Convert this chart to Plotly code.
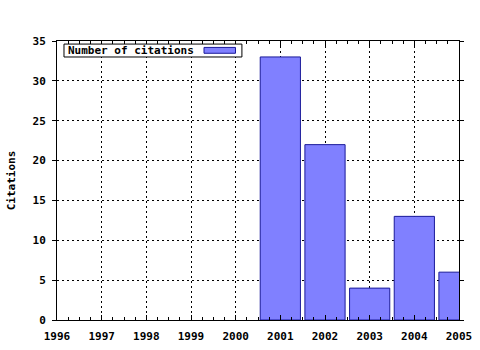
import plotly.graph_objects as go

years = [2001, 2002, 2003, 2004, 2005]
citations = [33, 22, 4, 13, 6]
x_ticks = list(range(1996, 2006))
y_ticks = [0, 5, 10, 15, 20, 25, 30, 35]
series_name = "Number of citations"

font = dict(family="DejaVu Sans Mono", size=11, color="black", weight="bold")

fig = go.Figure()
fig.add_trace(go.Bar(
    x=years, y=citations, name=series_name, width=0.9,
    marker=dict(color="#8080ff", line=dict(color="#1a1a9a", width=1)),
    showlegend=False,
))

axis_common = dict(
    showline=True, linecolor="black", linewidth=1, mirror="ticks",
    tickcolor="black", tickwidth=1,
    showgrid=True, gridcolor="black", griddash="2px,3px", gridwidth=1,
    zeroline=False, tickfont=font, automargin=False,
)

fig.update_xaxes(range=[1996, 2005], tickvals=x_ticks, ticktext=[str(v) for v in x_ticks],
                 ticks="inside", ticklen=5, ticklabelstandoff=6,
                 minor=dict(ticks="inside", ticklen=3, tickcolor="black", dtick=0.25, showgrid=False),
                 **axis_common)
fig.update_yaxes(range=[0, 35], tickvals=y_ticks, ticks="outside", ticklen=4,
                 ticklabelstandoff=4,
                 title=dict(text="Citations", font=font, standoff=14),
                 **axis_common)

# legend-like box: text then swatch
fig.add_shape(type="rect", xref="paper", yref="paper", x0=0.0174, x1=0.460, y0=0.9427, y1=0.989,
              fillcolor="white", line=dict(color="black", width=1), layer="above")
fig.add_shape(type="rect", xref="paper", yref="paper", x0=0.3657, x1=0.444, y0=0.956, y1=0.977,
              fillcolor="#8080ff", line=dict(color="#1a1a9a", width=1), layer="above")
fig.add_annotation(xref="paper", yref="paper", x=0.0224, y=0.966, xanchor="left", yanchor="middle",
                   text=series_name, showarrow=False, font=font)

fig.update_layout(
    width=480, height=350,
    margin=dict(l=57, r=21, t=41, b=30),
    paper_bgcolor="white", plot_bgcolor="white",
    font=font, bargap=0.1,
)

fig.write_html("out.html")
